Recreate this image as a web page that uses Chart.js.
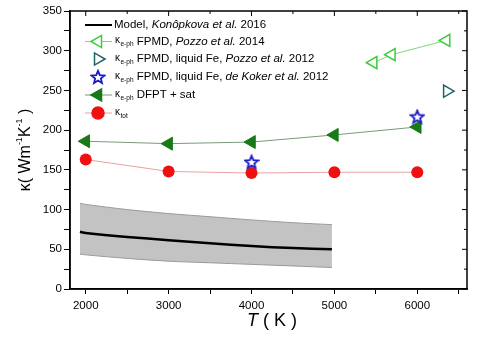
<!DOCTYPE html>
<html>
<head>
<meta charset="utf-8">
<script src="https://cdn.jsdelivr.net/npm/chart.js@4"></script>
<style>
  html, body { margin: 0; padding: 0; background: #fff; }
  #wrap { width: 500px; height: 338px; }
</style>
</head>
<body>
<div id="wrap"><canvas id="kappaChart" width="500" height="338"></canvas></div>
<script>
// temperatures (K) and conductivities
const modelT     = [1930, 2000, 2500, 3000, 3500, 4000, 4500, 4970];
const modelK     = [72, 70.5, 65.5, 61.5, 57.5, 54, 51.5, 50];
const modelUpper = [108, 106.5, 100, 95, 91, 87, 83.5, 81];
const modelLower = [44, 43, 38.5, 35, 33, 31, 29, 27];

const pozzo14T = [5470, 5690, 6350];
const pozzo14K = [285, 295, 313];

const pozzo12T = [6360];
const pozzo12K = [249];

const dekokerT = [4000, 6000];
const dekokerK = [160, 217];

const dfptT = [2000, 3000, 4000, 5000, 6000];
const dfptK = [186, 183, 185, 194, 204];

const totT = [2000, 3000, 4000, 5000, 6000];
const totK = [163, 148, 146, 147, 147];

const xTicks = [2000, 2500, 3000, 3500, 4000, 4500, 5000, 5500, 6000, 6500];
const yTicks = [0, 25, 50, 75, 100, 125, 150, 175, 200, 225, 250, 275, 300, 325, 350];

const pts = (xs, ys) => xs.map((x, i) => ({ x: x, y: ys[i] }));

// hollow five point star for the de Koker points
function makeStar(color) {
  const c = document.createElement('canvas');
  c.width = 16; c.height = 16;
  const g = c.getContext('2d');
  g.beginPath();
  for (let i = 0; i < 10; i++) {
    const r = i % 2 === 0 ? 6.8 : 3;
    const a = -Math.PI / 2 + i * Math.PI / 5;
    const px = 8 + r * Math.cos(a), py = 8.6 + r * Math.sin(a);
    if (i === 0) g.moveTo(px, py); else g.lineTo(px, py);
  }
  g.closePath();
  g.fillStyle = '#fff';
  g.fill();
  g.lineWidth = 1.8;
  g.strokeStyle = color;
  g.stroke();
  return c;
}
const starImg = makeStar('#1c1cc8');

const FONT = '"Liberation Sans", Arial, sans-serif';

// legend rows drawn inside the plot area
const legendRows = [
  { line: '#000', lw: 2, marker: null, parts: [['Model, ', ''], ['Konôpkova et al.', 'italic'], [' 2016', '']] },
  { line: '#7fd67f', lw: 1, marker: { style: 'triangle', rot: -90, fill: '#fff', stroke: '#3ccc3c', r: 7 }, kappa: 'e-ph', parts: [[' FPMD, ', ''], ['Pozzo et al.', 'italic'], [' 2014', '']] },
  { line: null, marker: { style: 'triangle', rot: 90, fill: '#fff', stroke: '#1e6464', r: 7 }, kappa: 'e-ph', parts: [[' FPMD, liquid Fe, ', ''], ['Pozzo et al.', 'italic'], [' 2012', '']] },
  { line: null, marker: { style: starImg }, kappa: 'e-ph', parts: [[' FPMD, liquid Fe, ', ''], ['de Koker et al.', 'italic'], [' 2012', '']] },
  { line: '#7a9a7a', lw: 1, marker: { style: 'triangle', rot: -90, fill: '#177a17', stroke: '#177a17', r: 7 }, kappa: 'e-ph', parts: [[' DFPT + sat', '']] },
  { line: '#e8a0a0', lw: 1, marker: { style: 'circle', rot: 0, fill: '#f01010', stroke: '#f01010', r: 6 }, kappa: 'tot', parts: [] }
];

const decorPlugin = {
  id: 'decor',
  afterDraw(chart) {
    const ctx = chart.ctx;
    const a = chart.chartArea;
    const xs = chart.scales.x, ys = chart.scales.y;
    ctx.save();
    // frame
    ctx.strokeStyle = '#000';
    ctx.lineWidth = 1.5;
    ctx.strokeRect(a.left, a.top, a.right - a.left, a.bottom - a.top);
    // inward ticks on top and right sides
    ctx.lineWidth = 1;
    xTicks.forEach(v => {
      const px = xs.getPixelForValue(v);
      ctx.beginPath(); ctx.moveTo(px, a.top); ctx.lineTo(px, a.top + (v % 1000 === 0 ? 5 : 3)); ctx.stroke();
    });
    yTicks.forEach(v => {
      const py = ys.getPixelForValue(v);
      ctx.beginPath(); ctx.moveTo(a.right, py); ctx.lineTo(a.right - (v % 50 === 0 ? 5 : 3), py); ctx.stroke();
    });

    // axis titles
    ctx.fillStyle = '#000';
    ctx.textBaseline = 'middle';
    ctx.font = 'italic 18px ' + FONT;
    const tW = ctx.measureText('T').width;
    ctx.font = '18px ' + FONT;
    const restW = ctx.measureText(' ( K )').width;
    let sx = 272 - (tW + restW) / 2;
    ctx.font = 'italic 18px ' + FONT;
    ctx.textAlign = 'left';
    ctx.fillText('T', sx, 321);
    ctx.font = '18px ' + FONT;
    ctx.fillText(' ( K )', sx + tW, 321);

    ctx.save();
    ctx.translate(26, 150);
    ctx.rotate(-Math.PI / 2);
    const yParts = [['κ( Wm', 16, 0], ['-1', 9, -6], ['K', 16, 0], ['-1', 9, -6], [' )', 16, 0]];
    let total = 0;
    yParts.forEach(p => { ctx.font = p[1] + 'px ' + FONT; total += ctx.measureText(p[0]).width; });
    let cx = -total / 2;
    yParts.forEach(p => {
      ctx.font = p[1] + 'px ' + FONT;
      ctx.fillText(p[0], cx, p[2]);
      cx += ctx.measureText(p[0]).width;
    });
    ctx.restore();

    // legend
    const rowY = [25, 41.5, 59, 77, 95, 113];
    legendRows.forEach((row, i) => {
      const y = rowY[i];
      if (row.line) {
        ctx.strokeStyle = row.line;
        ctx.lineWidth = row.lw;
        ctx.beginPath(); ctx.moveTo(85, y); ctx.lineTo(112, y); ctx.stroke();
      }
      if (row.marker) {
        const m = row.marker;
        if (m.style instanceof HTMLCanvasElement) {
          ctx.drawImage(m.style, 98 - 8, y - 8);
        } else {
          ctx.fillStyle = m.fill;
          ctx.strokeStyle = m.stroke;
          ctx.lineWidth = 1.5;
          Chart.helpers.drawPoint(ctx, { pointStyle: m.style, rotation: m.rot, radius: m.r, borderWidth: 1.5 }, 98, y);
        }
      }
      ctx.fillStyle = '#000';
      ctx.textAlign = 'left';
      let x = 115;
      if (row.kappa) {
        ctx.font = '10px ' + FONT;
        ctx.fillText('κ', x, y - 1);
        x += ctx.measureText('κ').width + 0.5;
        ctx.font = '6.5px ' + FONT;
        ctx.fillText(row.kappa, x, y + 3);
        x += ctx.measureText(row.kappa).width;
      } else {
        x = 114;
      }
      row.parts.forEach(p => {
        ctx.font = (p[1] ? p[1] + ' ' : '') + '11.5px ' + FONT;
        ctx.fillText(p[0], x, y);
        x += ctx.measureText(p[0]).width;
      });
    });
    ctx.restore();
  }
};

new Chart(document.getElementById('kappaChart'), {
  type: 'scatter',
  data: {
    datasets: [
      {
        label: 'upper',
        order: 9,
        data: pts(modelT, modelUpper),
        showLine: true,
        borderColor: '#9a9a9a',
        borderWidth: 1,
        backgroundColor: '#c3c3c3',
        pointRadius: 0,
        fill: '+1',
        tension: 0.3
      },
      {
        label: 'lower',
        order: 8,
        data: pts(modelT, modelLower),
        showLine: true,
        borderColor: '#9a9a9a',
        borderWidth: 1,
        pointRadius: 0,
        fill: false,
        tension: 0.3
      },
      {
        label: 'Model, Konôpkova et al. 2016',
        order: 7,
        data: pts(modelT, modelK),
        showLine: true,
        borderColor: '#000',
        borderWidth: 2.5,
        pointRadius: 0,
        tension: 0.3
      },
      {
        label: 'FPMD, Pozzo et al. 2014',
        order: 4,
        data: pts(pozzo14T, pozzo14K),
        showLine: true,
        borderColor: '#7fd67f',
        borderWidth: 1,
        pointStyle: 'triangle',
        rotation: -90,
        pointRadius: 7,
        pointBorderWidth: 1.5,
        pointBorderColor: '#3ccc3c',
        pointBackgroundColor: '#fff'
      },
      {
        label: 'FPMD, liquid Fe, Pozzo et al. 2012',
        order: 3,
        data: pts(pozzo12T, pozzo12K),
        pointStyle: 'triangle',
        rotation: 90,
        pointRadius: 7,
        pointBorderWidth: 1.5,
        pointBorderColor: '#1e6464',
        pointBackgroundColor: '#fff'
      },
      {
        label: 'DFPT + sat',
        order: 2,
        data: pts(dfptT, dfptK),
        showLine: true,
        borderColor: '#7a9a7a',
        borderWidth: 1,
        pointStyle: 'triangle',
        rotation: -90,
        pointRadius: 7.5,
        pointBorderWidth: 1,
        pointBorderColor: '#177a17',
        pointBackgroundColor: '#177a17'
      },
      {
        label: 'FPMD, liquid Fe, de Koker et al. 2012',
        order: 0,
        data: pts(dekokerT, dekokerK),
        pointStyle: starImg
      },
      {
        label: 'tot',
        order: 1,
        data: pts(totT, totK),
        showLine: true,
        borderColor: '#e8a0a0',
        borderWidth: 1,
        pointStyle: 'circle',
        pointRadius: 6,
        pointBorderWidth: 0,
        pointBackgroundColor: '#f01010'
      }
    ]
  },
  options: {
    responsive: false,
    animation: false,
    layout: { padding: { top: 11, right: 33, left: 0, bottom: 0 } },
    plugins: { legend: { display: false }, tooltip: { enabled: false } },
    scales: {
      x: {
        type: 'linear',
        min: 1810,
        max: 6600,
        afterBuildTicks: s => { s.ticks = xTicks.map(v => ({ value: v })); },
        afterFit: s => { s.height = 49; },
        ticks: {
          autoSkip: false,
          maxRotation: 0,
          padding: 5,
          color: '#000',
          font: { family: FONT, size: 11.5 },
          callback: v => (v % 1000 === 0 ? v : '')
        },
        grid: { drawOnChartArea: false, color: '#000', tickLength: 5 },
        border: { color: '#000', width: 1.5 }
      },
      y: {
        min: 0,
        max: 350,
        afterBuildTicks: s => { s.ticks = yTicks.map(v => ({ value: v })); },
        afterFit: s => { s.width = 70; },
        ticks: {
          autoSkip: false,
          padding: 2,
          color: '#000',
          font: { family: FONT, size: 11.5 },
          callback: v => (v % 50 === 0 ? v : '')
        },
        grid: { drawOnChartArea: false, color: '#000', tickLength: 6 },
        border: { color: '#000', width: 1.5 }
      }
    }
  },
  plugins: [decorPlugin]
});
</script>
</body>
</html>
